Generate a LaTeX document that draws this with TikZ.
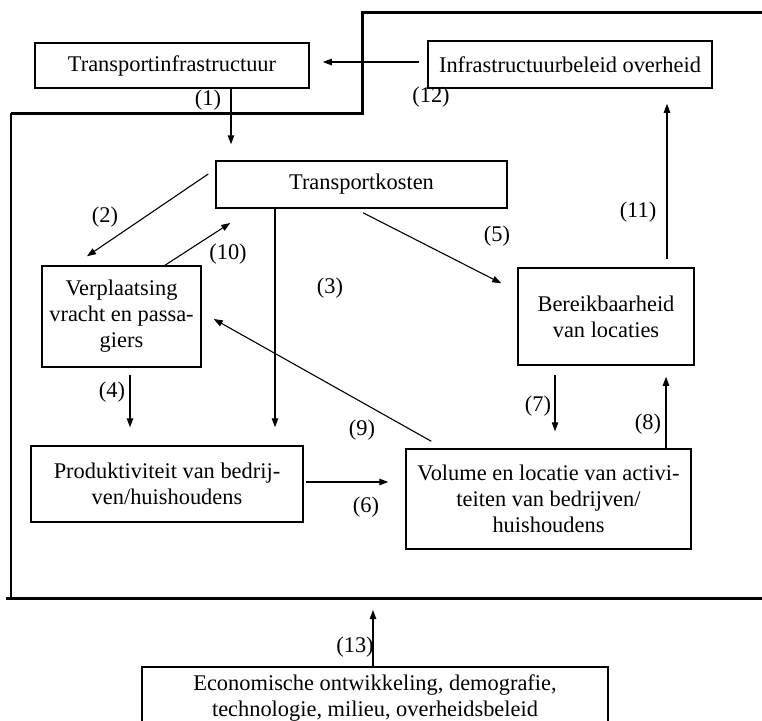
\documentclass[tikz,border=0pt]{standalone}
\usepackage{fontspec}
\setmainfont{Liberation Serif}
\usetikzlibrary{arrows.meta,calc}
\begin{document}
\begin{tikzpicture}[x=1pt,y=-1pt,
  txt/.style={font=\fontsize{22.4}{26}\selectfont},
  box/.style={draw, line width=1.5pt, inner sep=0pt, align=center, txt},
  lbl/.style={inner sep=0pt, txt},
  arr/.style={line width=1.1pt, -{Triangle[length=9pt,width=6.5pt]}},
  frame/.style={line width=3pt},
  thinframe/.style={line width=1.7pt}]
\clip (0,0) rectangle (762,720);
\useasboundingbox (0,0) rectangle (762,720);
\fill[white] (0,0) rectangle (762,720);

% frame
\draw[frame] (762,12) -- (362,12) -- (362,113) -- (11,113);
\draw[thinframe] (11,113) -- (11,598);
\draw[frame] (6,598) -- (762,598);
\coordinate (frameS) at (373,598);

% boxes
\node[box, minimum width=274pt, minimum height=45pt] (ti) at (172,65.5) {Transportinfrastructuur};
\node[box, minimum width=284pt, minimum height=47pt] (ib) at (570,64.5) {Infrastructuurbeleid overheid};
\node[box, minimum width=291pt, minimum height=47pt] (tk) at (361.5,184.5) {Transportkosten};
\node[box, minimum width=159pt, minimum height=101pt] (vp) at (121.5,316.5) {Verplaatsing\\vracht en passa-\\giers};
\node[box, minimum width=176pt, minimum height=97pt] (br) at (606,316.5) {Bereikbaarheid\\van locaties};
\node[box, minimum width=272pt, minimum height=76pt] (pr) at (167,484) {Produktiviteit van bedrij-\\ven/huishoudens};
\node[box, minimum width=285pt, minimum height=100pt] (vl) at (548.5,499) {Volume en locatie van activi-\\teiten van bedrijven/\\huishoudens};
\node[box, minimum width=466pt, minimum height=62pt, anchor=north] (ec) at (375,666) {};
\node[lbl, align=center] (ect) at (375,698) {Economische ontwikkeling, demografie,\\technologie, milieu, overheidsbeleid};

% connectors
\draw[arr, shorten >=16pt] (231,0 |- ti.south) -- (231,0 |- tk.north);
\draw[arr, shorten <=8pt, shorten >=13pt] (ib.west |- 0,62) -- (ti.east |- 0,62);
\draw[arr] ($(tk.west)+(-7,-10.5)$) -- ($(vp.north)+(-34.5,-9)$);
\draw[arr] (165,0 |- vp.north) -- ($(tk.west)+(15,38.5)$);
\draw[arr, shorten >=18pt] (275,0 |- tk.south) -- (275,0 |- pr.north);
\draw[arr] ($(363,0 |- tk.south)+(0,4)$) -- ($(br.north west)+(-16,16)$);
\draw[arr, shorten <=8pt, shorten >=15pt] (667,0 |- br.north) -- (667,0 |- ib.south);
\draw[arr, shorten <=7pt, shorten >=18pt] (130,0 |- vp.south) -- (130,0 |- pr.north);
\draw[arr, shorten <=9pt, shorten >=17pt] (555,0 |- br.south) -- (555,0 |- vl.north);
\draw[arr, shorten >=11pt] (666,0 |- vl.north) -- (666,0 |- br.south);
\draw[arr] ($(vl.north west)+(26,-7)$) -- ($(vp.east)+(12,2.5)$);
\draw[arr, shorten <=2pt, shorten >=17pt] (pr.east |- 0,482) -- (vl.west |- 0,482);
\draw[arr, shorten >=12pt] (373,0 |- ec.north) -- (frameS);

% labels
\node[lbl] (l1) at (208,100) {(1)};
\node[lbl] (l12) at (431,97) {(12)};
\node[lbl] (l2) at (105,217) {(2)};
\node[lbl] (l10) at (228,254) {(10)};
\node[lbl] (l3) at (330,288) {(3)};
\node[lbl] (l5) at (497,236) {(5)};
\node[lbl] (l11) at (638,212) {(11)};
\node[lbl] (l4) at (112,392) {(4)};
\node[lbl] (l7) at (538,406) {(7)};
\node[lbl] (l8) at (648,424) {(8)};
\node[lbl] (l9) at (362,430) {(9)};
\node[lbl] (l6) at (366,507) {(6)};
\node[lbl] (l13) at (355,647) {(13)};
\end{tikzpicture}
\end{document}
